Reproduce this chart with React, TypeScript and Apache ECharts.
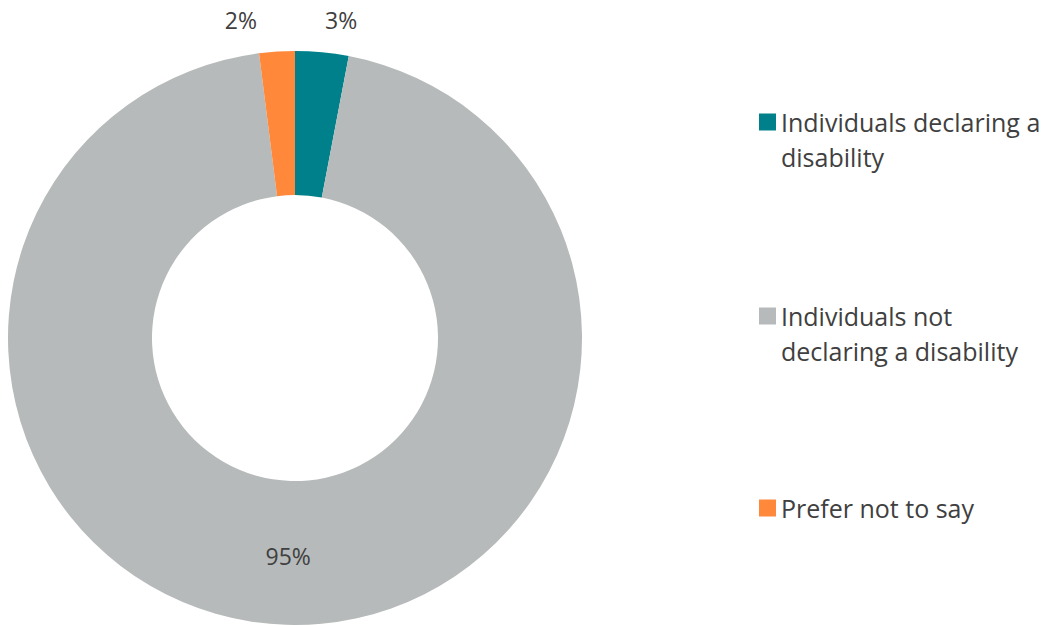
import React, { useEffect, useRef } from "react";
import * as echarts from "echarts";

const categories = [
  "Individuals declaring a disability",
  "Individuals not declaring a disability",
  "Prefer not to say",
];
const legendLines = [
  ["Individuals declaring a", "disability"],
  ["Individuals not", "declaring a disability"],
  ["Prefer not to say"],
];
const values = [3, 95, 2];
const colors = ["#00808A", "#B7BABA", "#FF883A"];

const FONT = "'Open Sans', Lato, sans-serif";
const TEXT = "#404040";

export default function App() {
  const ref = useRef<HTMLDivElement>(null);
  useEffect(() => {
    document.body.style.margin = "0";
    const chart = echarts.init(ref.current!, null, { renderer: "svg" });
    const legendTops = [122, 316, 508];
    const L = 35;
    const legends = categories.map((name, i) => {
      const lines = legendLines[i];
      // pad with empty lines above so the first line sits level with the icon
      const padded = [...Array(lines.length - 1).fill(""), ...lines];
      const boxH = padded.length * L;
      return {
        data: [name],
        orient: "vertical",
        left: 759,
        top: legendTops[i] - boxH / 2,
        padding: 0,
        itemWidth: 17,
        itemHeight: 17,
        icon: "rect",
        selectedMode: false,
        formatter: () => padded.join("\n"),
        textStyle: {
          fontFamily: FONT,
          fontSize: 25,
          color: TEXT,
          lineHeight: L,
        },
      };
    });
    const labelOffsets = [0, 0, 18];
    chart.setOption({
      animation: false,
      color: colors,
      legend: legends,
      series: [
        {
          type: "pie",
          center: [295, 338],
          radius: [143, 287],
          startAngle: 90,
          clockwise: true,
          avoidLabelOverlap: false,
          silent: true,
          itemStyle: { borderWidth: 0 },
          data: categories.map((name, i) => ({
            name,
            value: values[i],
            label:
              i === 1
                ? { position: "inside" }
                : { position: "outside", distanceToLabelLine: 0 },
            labelLine: { show: false, length: 32, length2: labelOffsets[i] },
          })),
          label: {
            show: true,
            formatter: (p: any) => `${p.value}%`,
            fontFamily: FONT,
            fontSize: 23,
            color: TEXT,
          },
        },
      ],
    });
    return () => chart.dispose();
  }, []);
  return <div ref={ref} style={{ width: 1052, height: 625 }} />;
}
